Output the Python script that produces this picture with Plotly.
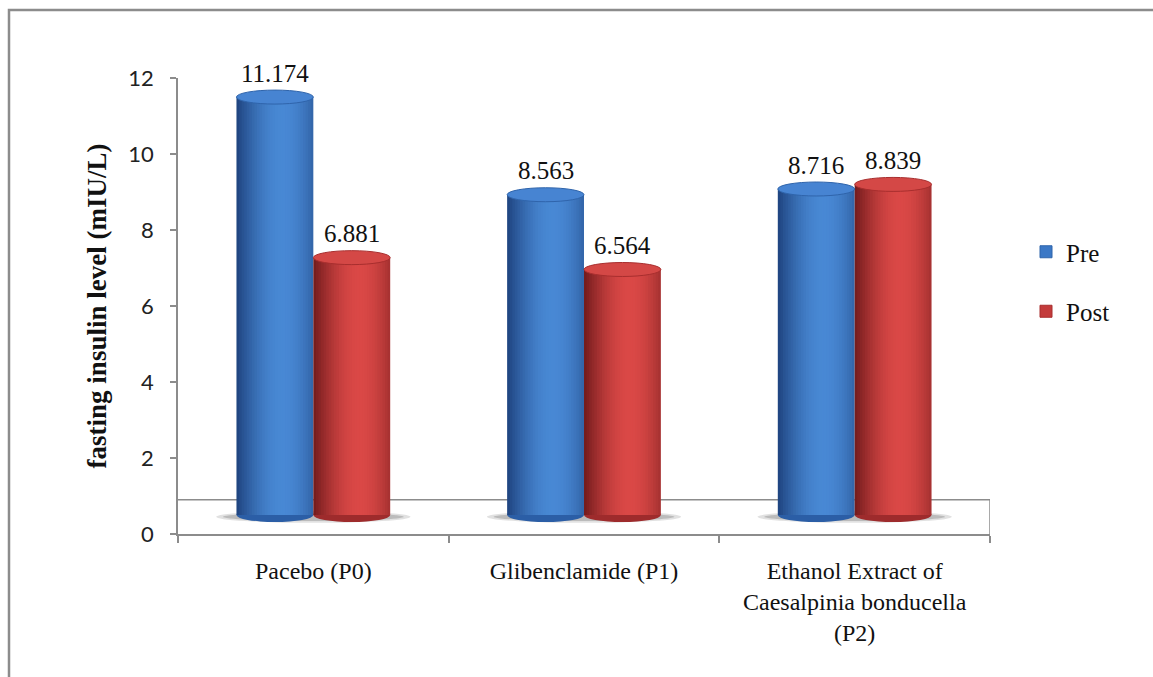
import numpy as np
import plotly.graph_objects as go

# ---------------- data ----------------
categories = ["Pacebo (P0)", "Glibenclamide (P1)",
              "Ethanol Extract of<br>Caesalpinia bonducella<br>(P2)"]
series_names = ["Pre", "Post"]
pre_values = [11.174, 8.563, 8.716]
post_values = [6.881, 6.564, 8.839]
value_labels_pre = ["11.174", "8.563", "8.716"]
value_labels_post = ["6.881", "6.564", "8.839"]
y_ticks = [0, 2, 4, 6, 8, 10, 12]
y_title = "fasting insulin level (mIU/L)"

# ---------------- style ----------------
W, H = 1153, 677
PL, PR, PT, PB = 178, 990, 78, 534          # plot area in pixels
BW = 0.284                                   # bar width (category units)
N_STRIPS = 30                                # strips used to shade a cylinder
ELL = 0.187                                  # half height of cylinder caps (bar-axis units)
FLOOR_DEPTH = 0.9                            # depth of the 3-D floor (axis units)
BAR_RANGE = [-0.508, 11.684]                 # perspective axis of the cylinders
SERIF = "Liberation Serif"
SANS = "Lato"
AXIS_GREY = "#8c8c8c"

styles = {
    "Pre": dict(dark=(30, 66, 125), light=(72, 136, 212), top="#4784d2",
                rim="#2f64ab", bottom="#2b5ea6", legend="#3b78c6", offset=-BW),
    "Post": dict(dark=(112, 26, 28), light=(218, 72, 70), top="#d44846",
                 rim="#a82e2e", bottom="#9e2b2c", legend="#c33b3b", offset=0.0),
}


def shade(t, dark, light):
    theta = (t - 0.5) * np.pi
    f = (np.cos(theta - 0.3) + 0.3) / 1.3
    f = float(np.clip(f, 0, 1)) ** 0.9
    c = [int(round(d + (l - d) * f)) for d, l in zip(dark, light)]
    return "rgb(%d,%d,%d)" % tuple(c)


fig = go.Figure()
shapes = []
annotations = []

series_values = {"Pre": pre_values, "Post": post_values}
series_labels = {"Pre": value_labels_pre, "Post": value_labels_post}

# shadows on the floor
for i in range(len(categories)):
    for pad, alpha, hh in [(0.075, 0.18, 0.16), (0.05, 0.28, 0.11)]:
        shapes.append(dict(type="circle", xref="x", yref="y2", layer="below",
                           x0=i - BW - pad, x1=i + BW + pad,
                           y0=-0.05 - hh, y1=-0.05 + hh,
                           fillcolor="rgba(90,90,90,%.2f)" % alpha, line=dict(width=0)))

# floor / back wall lines
shapes.append(dict(type="line", xref="x", yref="y", layer="below",
                   x0=-0.5, x1=len(categories) - 0.5, y0=FLOOR_DEPTH, y1=FLOOR_DEPTH,
                   line=dict(color=AXIS_GREY, width=1.5)))
shapes.append(dict(type="line", xref="x", yref="y", layer="below",
                   x0=len(categories) - 0.5, x1=len(categories) - 0.5, y0=0, y1=FLOOR_DEPTH,
                   line=dict(color=AXIS_GREY, width=1.5)))

for name in series_names:
    st = styles[name]
    vals = series_values[name]
    step = BW / N_STRIPS
    for j in range(N_STRIPS):
        t = (j + 0.5) / N_STRIPS
        extra = 0.004 if j < N_STRIPS - 1 else 0.0
        fig.add_trace(go.Bar(
            x=categories, y=vals, yaxis="y2",
            offset=st["offset"] + j * step, width=step + extra,
            marker=dict(color=shade(t, st["dark"], st["light"]), line=dict(width=0)),
            name=name, legendgroup=name, showlegend=False, hoverinfo="skip"))
    # legend entry (no visible bars)
    fig.add_trace(go.Bar(x=categories, y=[None] * len(categories), yaxis="y2",
                         name=name, legendgroup=name, showlegend=True,
                         marker=dict(color=st["legend"], line=dict(color=st["rim"], width=1))))
    for i, v in enumerate(vals):
        x0 = i + st["offset"]
        x1 = x0 + BW
        # bottom cap
        shapes.append(dict(type="circle", xref="x", yref="y2", layer="below",
                           x0=x0, x1=x1, y0=-ELL, y1=ELL,
                           fillcolor=st["bottom"], line=dict(width=0)))
        # top cap
        shapes.append(dict(type="circle", xref="x", yref="y2", layer="above",
                           x0=x0, x1=x1, y0=v - ELL, y1=v + ELL,
                           fillcolor=st["top"], line=dict(color=st["rim"], width=1)))
        annotations.append(dict(x=(x0 + x1) / 2, y=v, xref="x", yref="y2",
                                text=series_labels[name][i], showarrow=False,
                                yshift=24, font=dict(family=SERIF, size=25, color="#111")))

# outer frame
px = lambda p: (p - PL) / (PR - PL)
py = lambda p: (PB - p) / (PB - PT)
shapes.append(dict(type="rect", xref="paper", yref="paper", layer="above",
                   x0=px(9), x1=px(W + 20), y0=py(H + 20), y1=py(10),
                   line=dict(color=AXIS_GREY, width=2.5), fillcolor="rgba(0,0,0,0)"))

fig.update_layout(
    width=W, height=H,
    margin=dict(l=PL, r=W - PR, t=PT, b=H - PB, pad=0),
    paper_bgcolor="white", plot_bgcolor="rgba(0,0,0,0)",
    barmode="overlay",
    shapes=shapes, annotations=annotations,
    showlegend=True,
    legend=dict(x=px(1026), y=py(229), xanchor="left", yanchor="top",
                font=dict(family=SERIF, size=25, color="#111"),
                bgcolor="rgba(0,0,0,0)", traceorder="grouped", tracegroupgap=24,
                itemwidth=30),
    xaxis=dict(type="category", range=[-0.5, len(categories) - 0.5],
               showline=True, linecolor=AXIS_GREY, linewidth=1.5,
               ticks="outside", tickson="boundaries", ticklen=7, tickcolor=AXIS_GREY,
               tickwidth=1.5, showgrid=False, zeroline=False, ticklabelstandoff=14,
               tickfont=dict(family=SERIF, size=24, color="#111")),
    yaxis=dict(range=[0, 12], tickvals=y_ticks, showline=True, linecolor=AXIS_GREY,
               linewidth=1.5, ticks="outside", ticklen=6, tickcolor=AXIS_GREY, tickwidth=1.5,
               showgrid=False, zeroline=False, ticklabelstandoff=12,
               tickfont=dict(family=SANS, size=22, color="#222"),
               title=dict(text=y_title, standoff=14,
                          font=dict(family=SERIF, size=27, color="#111", weight="bold"))),
    yaxis2=dict(overlaying="y", range=BAR_RANGE, visible=False, showgrid=False,
                zeroline=False),
)

fig.write_html("out.html")
